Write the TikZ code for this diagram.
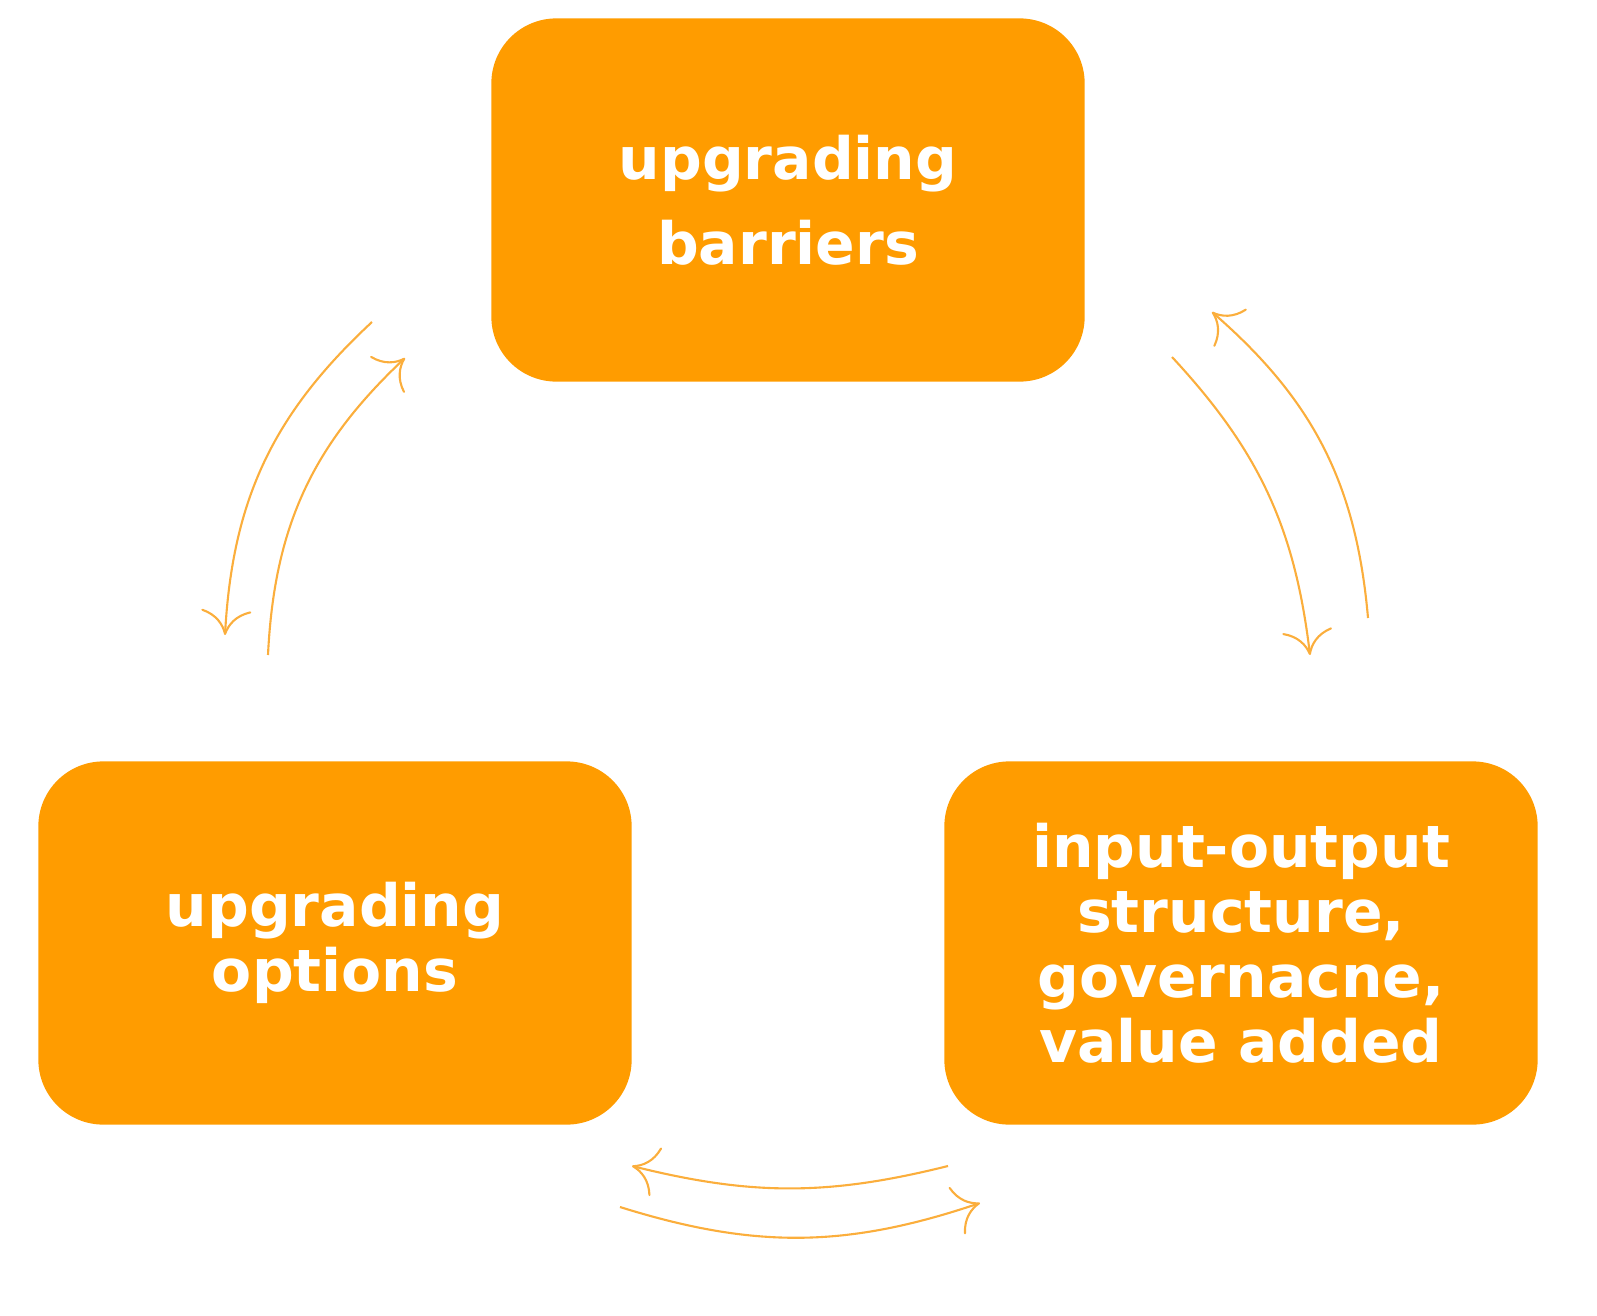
\documentclass[tikz,border=0pt]{standalone}
\usepackage{fontspec}
\setmainfont{DejaVu Sans}
\usepackage{xcolor}
\usetikzlibrary{arrows.meta}
\definecolor{boxOrange}{HTML}{FF9C00}
\definecolor{lineOrange}{HTML}{FBAE3C}

\begin{document}
\begin{tikzpicture}[x=0.01cm, y=-0.01cm,
  stage/.style={fill=boxOrange, rounded corners=0.65cm, minimum width=5.93cm,
    minimum height=3.63cm, text=white, align=center, inner sep=0pt,
    font=\fontsize{16.6}{18.5}\selectfont\bfseries},
  link/.style={-{To[length=2.5mm,width=5mm]}, draw=lineOrange, semithick}]
  \useasboundingbox (0,0) rectangle (1597,1315);

  \node[stage] (barriers) at (788,200) {upgrading\\[0.2cm]barriers};
  \node[stage] (options) at (335,943) {upgrading\\options};
  \node[stage] (structure) at (1241,943)
    {input-output\\structure,\\governacne,\\value added};

  % left pair
  \coordinate (lA) at (372,322);  \coordinate (lB) at (225,635);
  \coordinate (lC) at (268,655);  \coordinate (lD) at (405,358);
  \draw[link] (lA) to[bend right=22] (lB);
  \draw[link] (lC) to[bend left=22] (lD);

  % right pair
  \coordinate (rA) at (1172,357); \coordinate (rB) at (1310,655);
  \coordinate (rC) at (1368,618); \coordinate (rD) at (1212,312);
  \draw[link] (rA) to[bend left=18] (rB);
  \draw[link] (rC) to[bend right=22] (rD);

  % bottom pair
  \coordinate (bA) at (948,1166); \coordinate (bB) at (632,1166);
  \coordinate (bC) at (620,1207); \coordinate (bD) at (980,1203);
  \draw[link] (bA) to[bend left=14] (bB);
  \draw[link] (bC) to[bend right=18] (bD);
\end{tikzpicture}
\end{document}
